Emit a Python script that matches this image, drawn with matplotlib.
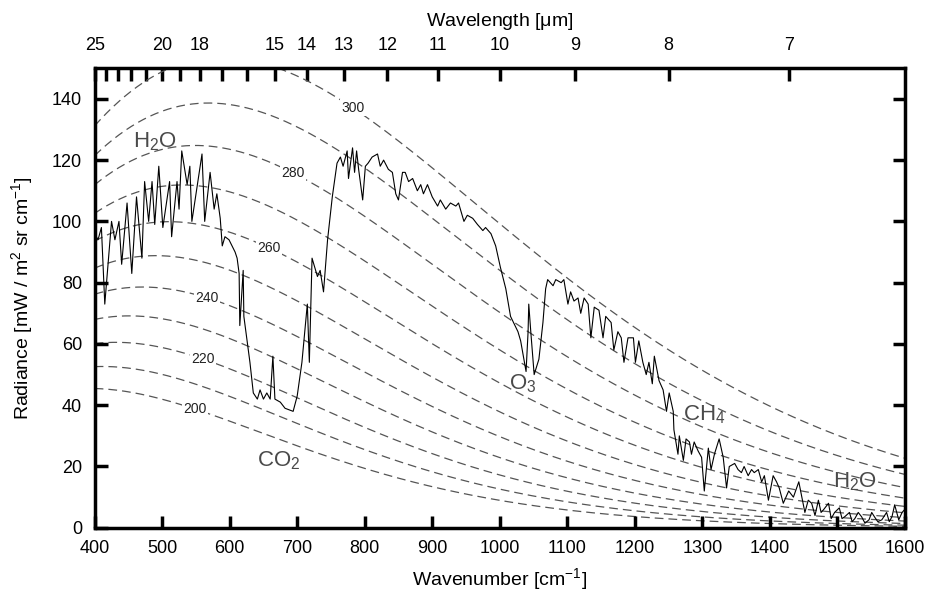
import numpy as np
import matplotlib
matplotlib.use("Agg")
import matplotlib.pyplot as plt

plt.rcParams['font.family'] = ['Liberation Sans', 'DejaVu Sans']
plt.rcParams['mathtext.default'] = 'regular'

nu = [400, 405, 410, 415, 425, 430, 436, 440, 448, 455, 462, 470, 474, 480, 485, 489,
      495, 501, 511, 514, 522, 525, 529, 537, 541, 544, 559, 563, 571, 577, 581, 586,
      589, 593, 599, 608, 611, 614, 615, 620, 621, 630, 635, 641, 645, 650, 655, 660,
      664, 667, 675, 682, 694, 700, 707, 715, 718, 722, 730, 734, 739, 745, 752, 759,
      764, 768, 774, 776, 782, 785, 788, 791, 797, 801, 805, 811, 819, 823, 828, 835,
      841, 846, 850, 856, 860, 865, 871, 878, 883, 887, 893, 900, 908, 912, 920, 927,
      935, 939, 947, 952, 960, 967, 975, 979, 987, 994, 1001, 1009, 1016, 1027, 1031,
      1039, 1042, 1043, 1046, 1051, 1058, 1064, 1068, 1071, 1079, 1083, 1091, 1095,
      1101, 1105, 1110, 1116, 1120, 1125, 1131, 1135, 1140, 1147, 1153, 1157, 1165,
      1169, 1175, 1180, 1184, 1190, 1198, 1201, 1206, 1212, 1217, 1221, 1226, 1229,
      1236, 1242, 1247, 1251, 1257, 1258, 1264, 1266, 1272, 1276, 1281, 1284, 1288,
      1294, 1299, 1303, 1309, 1313, 1318, 1325, 1331, 1336, 1340, 1348, 1353, 1358,
      1362, 1368, 1373, 1377, 1383, 1388, 1392, 1398, 1405, 1410, 1414, 1420, 1428,
      1435, 1443, 1452, 1457, 1462, 1467, 1472, 1476, 1480, 1487, 1491, 1496, 1503,
      1507, 1511, 1518, 1522, 1526, 1531, 1536, 1541, 1547, 1551, 1555, 1560, 1566,
      1570, 1573, 1577, 1581, 1585, 1591, 1596, 1600]
rad = [96, 94, 98, 73, 100, 94, 100, 86, 106, 83, 108, 88, 113, 100, 113, 99,
       118, 98, 113, 95, 113, 104, 123, 112, 118, 100, 122, 100, 116, 104, 109, 101,
       92, 95, 94, 90, 88, 83, 66, 84, 69, 54, 44, 42, 45, 42, 44, 42,
       56, 42, 41, 39, 38, 43, 54, 73, 54, 88, 82, 84, 77, 94, 108, 119,
       121, 118, 123, 114, 124, 116, 123, 117, 107, 118, 119, 121, 122, 118, 120, 117,
       116, 109, 107, 116, 116, 113, 114, 110, 112, 109, 112, 108, 105, 107, 104, 106,
       105, 106, 100, 102, 101, 99, 97, 98, 96, 92, 85, 78, 69, 64, 61,
       51, 64, 73, 64, 50, 55, 67, 78, 81, 79, 81, 80, 81,
       73, 77, 74, 75, 70, 75, 73, 62, 72, 71, 62, 69, 67,
       58, 64, 62, 54, 62, 62, 54, 61, 54, 50, 54, 47, 56,
       48, 45, 38, 44, 38, 32, 24, 30, 22, 29, 28, 24, 28,
       25, 23, 12, 26, 19, 24, 29, 23, 13, 20, 21, 19, 18,
       20, 17, 19, 18, 19, 15, 17, 9, 17, 15, 13, 8, 12,
       10, 15, 5, 9, 8, 4, 9, 5, 6, 8, 3, 5, 6.5,
       3, 3.6, 5, 2, 3, 5, 3.6, 1.5, 2.6, 5, 3.6, 2, 2.6,
       4, 5, 2, 3.6, 7.5, 2.6, 5, 6]

temps = [200, 210, 220, 230, 240, 250, 260, 270, 280, 290, 300]
label_temps = [200, 220, 240, 260, 280, 300]
label_nu = [549, 560, 566, 658, 694, 782]

wl_ticks = [7, 8, 9, 10, 11, 12, 13, 14, 15, 16, 17, 18, 19, 20, 21, 22, 23, 24, 25]
wl_labels = [7, 8, 9, 10, 11, 12, 13, 14, 15, 18, 20, 25]

gases = ['H$_2$O', 'CO$_2$', 'O$_3$', 'CH$_4$', 'H$_2$O']
gas_nu = [489, 672, 1034, 1303, 1526]
gas_rad = [126, 22, 47, 37, 15]


def planck(v, t):
    # mW / m2 sr cm-1
    return 1.191042e-5 * v**3 / (np.exp(1.4387752 * v / t) - 1)


fig = plt.figure(figsize=(9.28, 5.93), dpi=100)
ax = fig.add_axes([0.102, 0.110, 0.873, 0.775])

grid = np.linspace(400, 1600, 400)
for t in temps:
    ax.plot(grid, planck(grid, t), color='#555555', lw=0.9,
            dashes=(7, 4), zorder=1)

for t, v in zip(label_temps, label_nu):
    ax.text(v, planck(v, t), str(t), fontsize=10, ha='center', va='center',
            color='#222222', zorder=3,
            bbox=dict(facecolor='white', edgecolor='none', pad=1))

ax.plot(nu, rad, color='black', lw=0.8, zorder=2)

for g, v, r in zip(gases, gas_nu, gas_rad):
    ax.text(v, r, g, fontsize=16, color='#4a4a4a', ha='center', va='center',
            zorder=4)

ax.set_xlim(400, 1600)
ax.set_ylim(0, 150)
ax.set_xticks(range(400, 1601, 100))
ax.set_yticks(range(0, 141, 20))
ax.tick_params(direction='in', length=9, width=2.5, labelsize=13,
               right=True, top=False)
ax.tick_params(axis='x', pad=9)
ax.tick_params(axis='y', pad=9)
for s in ax.spines.values():
    s.set_linewidth(2.5)

ax.set_xlabel('Wavenumber [cm$^{-1}$]', fontsize=14, labelpad=6)
ax.set_ylabel('Radiance [mW / m$^2$ sr cm$^{-1}$]', fontsize=14, labelpad=12)

top = ax.secondary_xaxis('top')
top.set_xticks([1e4 / w for w in wl_ticks])
top.set_xticklabels([str(w) if w in wl_labels else '' for w in wl_ticks])
top.tick_params(direction='in', length=9, width=2.5, labelsize=13, pad=10)
top.set_xlabel('Wavelength [$\\mu$m]', fontsize=14, labelpad=8)

fig.savefig('out.png', dpi=100, facecolor='white')
